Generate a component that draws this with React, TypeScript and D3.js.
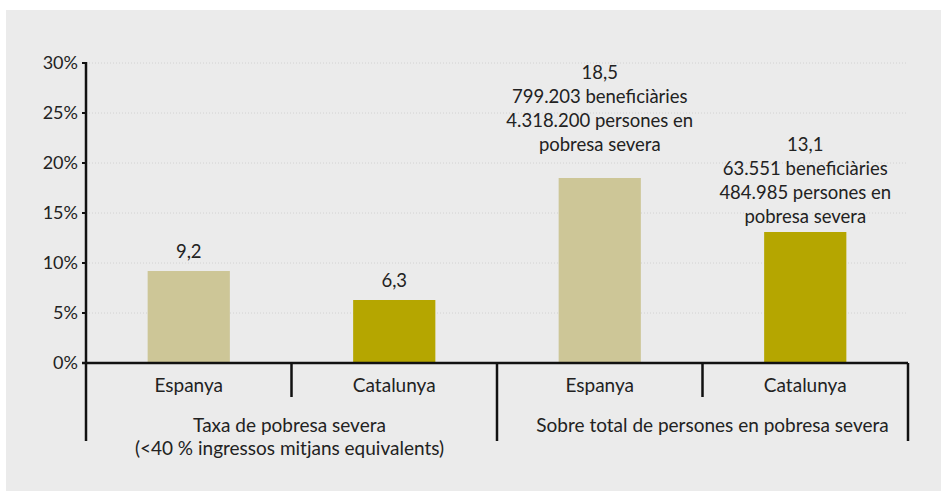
import React from "react";
import * as d3 from "d3";

const categories = ["Espanya", "Catalunya", "Espanya", "Catalunya"];
const values = [9.2, 6.3, 18.5, 13.1];
const valueLabels: string[][] = [
  ["9,2"],
  ["6,3"],
  ["18,5", "799.203 beneficiàries", "4.318.200 persones en", "pobresa severa"],
  ["13,1", "63.551 beneficiàries", "484.985 persones en", "pobresa severa"],
];
const groups: string[][] = [
  ["Taxa de pobresa severa", "(<40 % ingressos mitjans equivalents)"],
  ["Sobre total de persones en pobresa severa"],
];
const yTicks = [0, 5, 10, 15, 20, 25, 30];
const barColors = ["#cdc697", "#b5a600", "#cdc697", "#b5a600"];

const W = 941;
const H = 491;
const FONT = "Lato, 'Noto Sans', sans-serif";

export default function App() {
  const left = 86;
  const right = 908;
  const top = 63;
  const bottom = 363;
  const x = d3
    .scaleBand<number>()
    .domain(d3.range(categories.length))
    .range([left, right])
    .paddingInner(0)
    .paddingOuter(0);
  const y = d3.scaleLinear().domain([0, 30]).range([bottom, top]);
  const bw = x.bandwidth() * 0.4;
  const gw = x.bandwidth() * 2;

  return (
    <div style={{ position: "absolute", left: 0, top: 0 }}>
      <svg width={W} height={H} style={{ display: "block" }} fontFamily={FONT}>
        <rect x={6} y={10} width={W - 6} height={H - 10} fill="#ebebeb" />
        {yTicks.map((t) => (
          <g key={t}>
            {t > 0 && (
              <line
                x1={left}
                x2={right}
                y1={y(t)}
                y2={y(t)}
                stroke="#d2d2d2"
                strokeWidth={1}
                strokeDasharray="1,2"
              />
            )}
            <line x1={left - 4} x2={left} y1={y(t)} y2={y(t)} stroke="#111" strokeWidth={2} />
            <text
              x={left - 8}
              y={y(t)}
              dy="0.35em"
              textAnchor="end"
              fontSize={18}
              fill="#222"
            >
              {t}%
            </text>
          </g>
        ))}
        {values.map((v, i) => {
          const cx = (x(i) as number) + x.bandwidth() / 2;
          const lines = valueLabels[i];
          const lh = 24;
          const gap = lines.length > 1 ? (v > 15 ? 27 : 9) : 13;
          const lastBase = y(v) - gap;
          return (
            <g key={i}>
              <rect x={cx - bw / 2} y={y(v)} width={bw} height={bottom - y(v)} fill={barColors[i]} />
              {lines.map((l, j) => (
                <text
                  key={j}
                  x={cx}
                  y={lastBase - (lines.length - 1 - j) * lh}
                  textAnchor="middle"
                  fontSize={18.5}
                  fill="#222"
                >
                  {l}
                </text>
              ))}
              <text x={cx} y={392} textAnchor="middle" fontSize={19} fill="#222">
                {categories[i]}
              </text>
            </g>
          );
        })}
        {/* axes */}
        <line x1={left} x2={left} y1={top - 1} y2={bottom} stroke="#111" strokeWidth={2.5} />
        <line x1={left - 4} x2={right} y1={bottom} y2={bottom} stroke="#111" strokeWidth={2.5} />
        {d3.range(categories.length + 1).map((k) => {
          const xx = left + k * x.bandwidth();
          const long = k % 2 === 0;
          return (
            <line
              key={k}
              x1={xx}
              x2={xx}
              y1={bottom}
              y2={long ? 441 : 397}
              stroke="#111"
              strokeWidth={2.5}
            />
          );
        })}
        {groups.map((g, gi) => {
          const cx = left + gi * gw + gw / 2 + (gi === 1 ? 10 : -2);
          return g.map((l, j) => (
            <text key={gi + "-" + j} x={cx} y={432 + j * 23} textAnchor="middle" fontSize={19} fill="#222">
              {l}
            </text>
          ));
        })}
      </svg>
    </div>
  );
}
